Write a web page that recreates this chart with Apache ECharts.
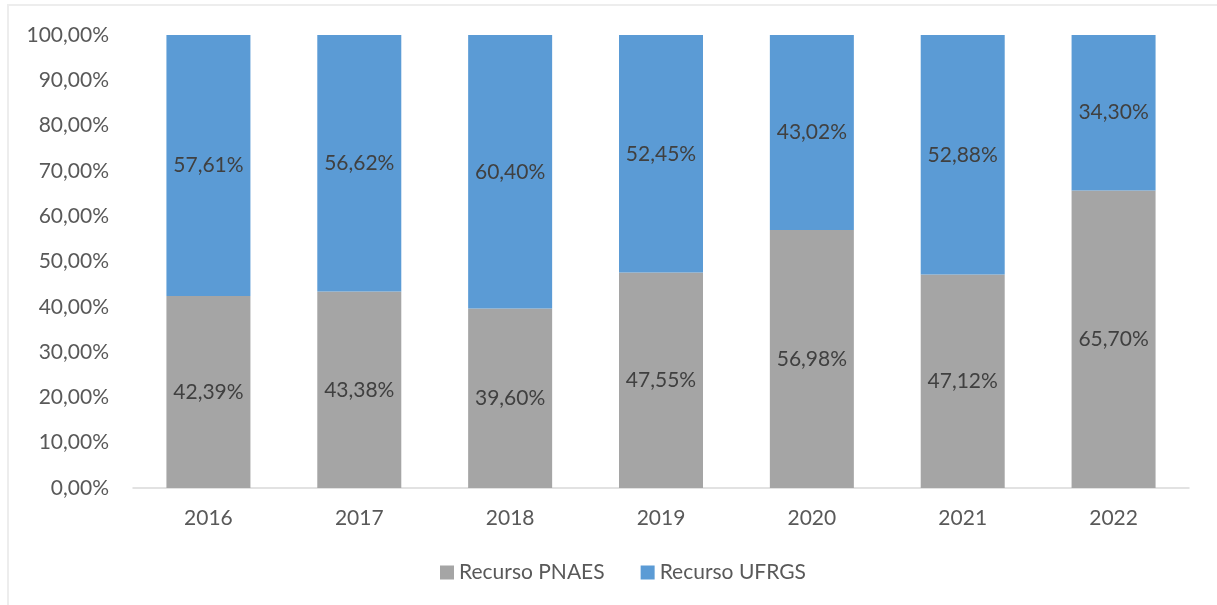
<!DOCTYPE html>
<html>
<head>
<meta charset="utf-8">
<script src="https://cdn.jsdelivr.net/npm/echarts@6/dist/echarts.min.js"></script>
<style>
  html, body { margin: 0; padding: 0; background: #fff; }
  #chart { width: 1217px; height: 605px; }
</style>
</head>
<body>
<div id="chart"></div>
<script>
// anos
const years = ['2016', '2017', '2018', '2019', '2020', '2021', '2022'];
// participação de cada recurso (%)
const pnaes = [42.39, 43.38, 39.60, 47.55, 56.98, 47.12, 65.70];
const ufrgs = [57.61, 56.62, 60.40, 52.45, 43.02, 52.88, 34.30];

const fmt = v => v.toFixed(2).replace('.', ',') + '%';
const font = 'Lato, "Open Sans", sans-serif';

const myChart = echarts.init(document.getElementById('chart'));
const option = {
  animation: false,
  textStyle: { fontFamily: font },
  graphic: [{
    type: 'rect',
    shape: { x: 8, y: 5, width: 1300, height: 700 },
    style: { fill: 'none', stroke: '#EDEDED', lineWidth: 2 },
    silent: true
  }],
  grid: { left: 133, right: 28, top: 35, bottom: 117 },
  legend: {
    left: 435,
    bottom: 17,
    itemWidth: 14,
    itemHeight: 14,
    itemGap: 36,
    icon: 'rect',
    textStyle: { fontSize: 21, color: '#595959', fontFamily: font },
    data: ['Recurso PNAES', 'Recurso UFRGS']
  },
  xAxis: {
    type: 'category',
    data: years,
    axisLine: { lineStyle: { color: '#D9D9D9', width: 1.5 } },
    axisTick: { show: false },
    axisLabel: { fontSize: 21, color: '#595959', margin: 20, fontFamily: font }
  },
  yAxis: {
    type: 'value',
    min: 0,
    max: 100,
    interval: 10,
    axisLine: { show: false },
    axisTick: { show: false },
    splitLine: { show: false },
    axisLabel: {
      fontSize: 21, color: '#595959', margin: 24, fontFamily: font,
      formatter: v => fmt(v)
    }
  },
  series: [
    {
      name: 'Recurso PNAES',
      type: 'bar',
      stack: 'total',
      barWidth: 84,
      data: pnaes,
      itemStyle: { color: '#A5A5A5' },
      label: {
        show: true, position: 'inside', fontSize: 21, color: '#404040',
        fontFamily: font, formatter: p => fmt(p.value)
      }
    },
    {
      name: 'Recurso UFRGS',
      type: 'bar',
      stack: 'total',
      barWidth: 84,
      data: ufrgs,
      itemStyle: { color: '#5B9BD5' },
      label: {
        show: true, position: 'inside', fontSize: 21, color: '#404040',
        fontFamily: font, formatter: p => fmt(p.value)
      }
    }
  ]
};
option && myChart.setOption(option);
</script>
</body>
</html>
